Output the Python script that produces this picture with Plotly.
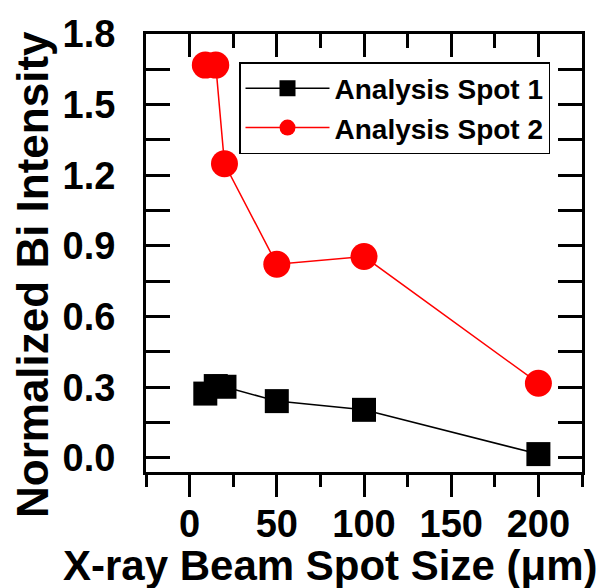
import plotly.graph_objects as go

# Data
spot_size_um = [9, 15, 20, 50, 100, 200]
spot1_intensity = [0.273, 0.305, 0.302, 0.241, 0.204, 0.016]
spot2_intensity = [1.668, 1.668, 1.249, 0.822, 0.855, 0.317]

series_names = ["Analysis Spot 1", "Analysis Spot 2"]
x_tick_vals = [0, 50, 100, 150, 200]
y_tick_vals = [0.0, 0.3, 0.6, 0.9, 1.2, 1.5, 1.8]
y_tick_text = ["0.0", "0.3", "0.6", "0.9", "1.2", "1.5", "1.8"]
x_title = "X-ray Beam Spot Size (\u03bcm)"
y_title = "Normalized Bi Intensity"

FONT = "Liberation Sans, Arial, sans-serif"

fig = go.Figure()
fig.add_trace(go.Scatter(
    x=spot_size_um, y=spot1_intensity, name=series_names[0],
    mode="lines+markers",
    line=dict(color="black", width=1.5),
    marker=dict(symbol="square", size=24, color="black"),
))
fig.add_trace(go.Scatter(
    x=spot_size_um, y=spot2_intensity, name=series_names[1],
    mode="lines+markers",
    line=dict(color="#ff0000", width=1.5),
    marker=dict(symbol="circle", size=27, color="#ff0000"),
))

x_range = [-25, 225]
y_range = [-0.06, 1.8]

# page body has an 8px margin, so the plot is placed 8px up/left to compensate
PL, PR, PT, PB = 138, 31, 26, 124
PW, PH = 605 - PL - PR, 588 - PT - PB

def px_x(px):
    return (px - 8 - PL) / PW

def px_y(py):
    return (588 - PB - (py - 8)) / PH

fig.update_layout(
    width=605, height=588,
    margin=dict(l=PL, r=PR, t=PT, b=PB),
    paper_bgcolor="white", plot_bgcolor="white",
    font=dict(family=FONT, color="black", weight="bold"),
    showlegend=True,
    legend=dict(
        x=px_x(239), y=px_y(62), xanchor="left", yanchor="top",
        bordercolor="black", borderwidth=1.5, bgcolor="white",
        font=dict(family=FONT, size=28, color="black", weight="bold"),
        itemwidth=84, tracegroupgap=0,
    ),
    xaxis=dict(
        range=x_range, tickvals=x_tick_vals, automargin=False,
        ticks="outside", ticklen=22, tickwidth=3, tickcolor="black",
        minor=dict(dtick=25, tick0=0, ticks="outside", ticklen=12, tickwidth=3, tickcolor="black"),
        showline=True, linewidth=3, linecolor="black", mirror=False,
        showgrid=False, zeroline=False, ticklabelstandoff=-6,
        tickfont=dict(family=FONT, size=38, color="black", weight="bold"),
    ),
    xaxis2=dict(
        range=x_range, overlaying="x", side="top", tickvals=x_tick_vals, automargin=False,
        ticks="inside", ticklen=23, tickwidth=3, tickcolor="black",
        minor=dict(dtick=25, tick0=0, ticks="inside", ticklen=14, tickwidth=3, tickcolor="black"),
        showline=True, linewidth=3, linecolor="black",
        showticklabels=False, showgrid=False, zeroline=False,
    ),
    yaxis=dict(
        range=y_range, tickvals=y_tick_vals, ticktext=y_tick_text, automargin=False,
        ticks="inside", ticklen=24, tickwidth=3, tickcolor="black",
        minor=dict(dtick=0.15, tick0=0, ticks="inside", ticklen=24, tickwidth=3, tickcolor="black"),
        showline=True, linewidth=3, linecolor="black", mirror="ticks",
        showgrid=False, zeroline=False,
        ticklabelstandoff=20,
        tickfont=dict(family=FONT, size=38, color="black", weight="bold"),
    ),
    annotations=[
        dict(text=x_title, xref="paper", yref="paper", x=px_x(330), y=px_y(565),
             xanchor="center", yanchor="middle", showarrow=False,
             font=dict(family=FONT, size=42, color="black", weight="bold")),
        dict(text=y_title, xref="paper", yref="paper", x=px_x(32), y=px_y(275),
             xanchor="center", yanchor="middle", showarrow=False, textangle=-90,
             borderpad=0,
             font=dict(family=FONT, size=44, color="black", weight="bold")),
    ],
)

# invisible trace to activate the top axis
fig.add_trace(go.Scatter(x=[], y=[], xaxis="x2", showlegend=False, hoverinfo="skip"))

fig.write_html("out.html")
